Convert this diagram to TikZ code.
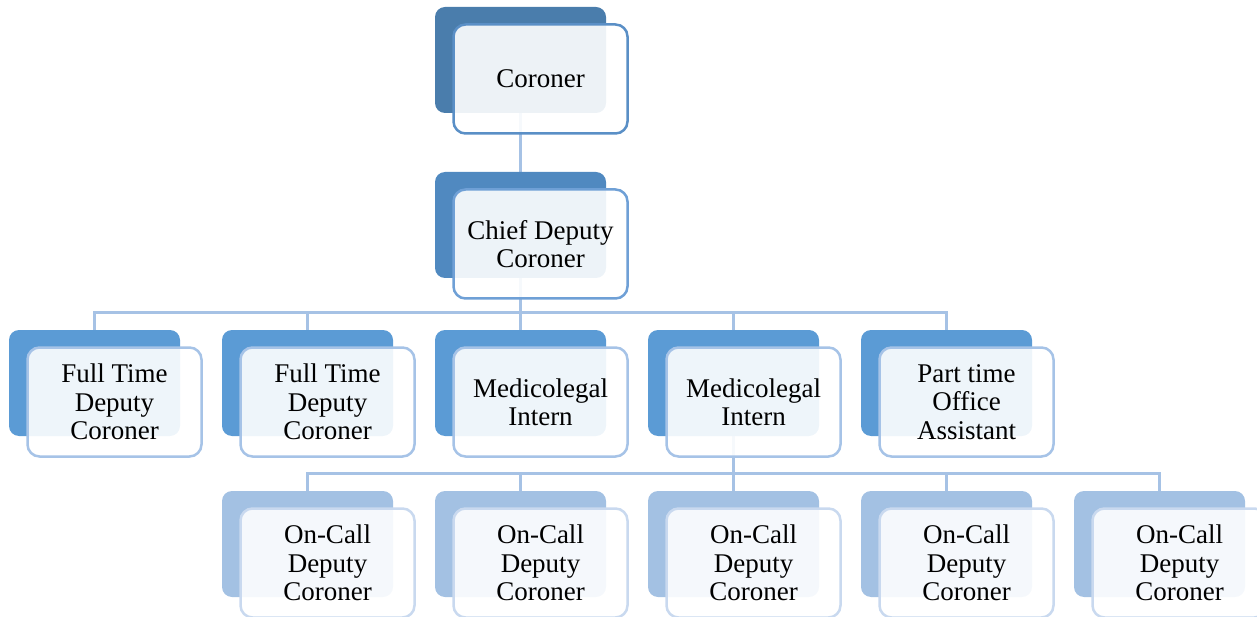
\documentclass[tikz,border=0pt]{standalone}
\usepackage{fontspec}
\setmainfont{Liberation Serif}
\usetikzlibrary{positioning, backgrounds}

\definecolor{backA}{RGB}{74, 125, 172}
\definecolor{backB}{RGB}{80, 137, 192}
\definecolor{backC}{RGB}{91, 155, 213}
\definecolor{backD}{RGB}{163, 193, 227}
\definecolor{edgeA}{RGB}{90, 143, 198}
\definecolor{edgeB}{RGB}{111, 160, 214}
\definecolor{edgeC}{RGB}{166, 195, 231}
\definecolor{edgeD}{RGB}{201, 217, 239}
\definecolor{linkblue}{RGB}{166, 194, 229}

\begin{document}
\begin{tikzpicture}[x=1pt, y=-1pt,
  backbox/.style={rounded corners=10pt, minimum width=171pt, minimum height=106pt, inner sep=0pt},
  frontbox/.style={rounded corners=12pt, line width=2.5pt, fill=white, fill opacity=0.9, text opacity=1,
    minimum width=174pt, minimum height=109pt, inner sep=0pt, align=center,
    font=\fontsize{27}{28.4}\selectfont},
  link/.style={line width=3pt, linkblue}]
  \useasboundingbox (0,0) rectangle (1257,617);

  % Coroner and chief deputy
  \node (coroner-bk) [backbox, fill=backA] at (520.5, 60) {};
  \node (coroner) [frontbox, draw=edgeA] at ([shift={(20,19)}]coroner-bk.center) {Coroner};

  \node (chief-bk) [backbox, fill=backB] at (520.5, 225) {};
  \node (chief) [frontbox, draw=edgeB] at ([shift={(20,19)}]chief-bk.center) {Chief Deputy\\Coroner};

  % Staff row
  \node (fulltime1-bk) [backbox, fill=backC] at (94.5, 383) {};
  \node (fulltime1) [frontbox, draw=edgeC] at ([shift={(20,19)}]fulltime1-bk.center) {Full Time\\Deputy\\Coroner};

  \node (fulltime2-bk) [backbox, fill=backC] at (307.5, 383) {};
  \node (fulltime2) [frontbox, draw=edgeC] at ([shift={(20,19)}]fulltime2-bk.center) {Full Time\\Deputy\\Coroner};

  \node (intern1-bk) [backbox, fill=backC] at (520.5, 383) {};
  \node (intern1) [frontbox, draw=edgeC] at ([shift={(20,19)}]intern1-bk.center) {Medicolegal\\Intern};

  \node (intern2-bk) [backbox, fill=backC] at (733.5, 383) {};
  \node (intern2) [frontbox, draw=edgeC] at ([shift={(20,19)}]intern2-bk.center) {Medicolegal\\Intern};

  \node (assistant-bk) [backbox, fill=backC] at (946.5, 383) {};
  \node (assistant) [frontbox, draw=edgeC] at ([shift={(20,19)}]assistant-bk.center) {Part time\\Office\\Assistant};

  % On-call row
  \node (oncall1-bk) [backbox, fill=backD] at (307.5, 544) {};
  \node (oncall1) [frontbox, draw=edgeD] at ([shift={(20,19)}]oncall1-bk.center) {On-Call\\Deputy\\Coroner};

  \node (oncall2-bk) [backbox, fill=backD] at (520.5, 544) {};
  \node (oncall2) [frontbox, draw=edgeD] at ([shift={(20,19)}]oncall2-bk.center) {On-Call\\Deputy\\Coroner};

  \node (oncall3-bk) [backbox, fill=backD] at (733.5, 544) {};
  \node (oncall3) [frontbox, draw=edgeD] at ([shift={(20,19)}]oncall3-bk.center) {On-Call\\Deputy\\Coroner};

  \node (oncall4-bk) [backbox, fill=backD] at (946.5, 544) {};
  \node (oncall4) [frontbox, draw=edgeD] at ([shift={(20,19)}]oncall4-bk.center) {On-Call\\Deputy\\Coroner};

  \node (oncall5-bk) [backbox, fill=backD] at (1159.5, 544) {};
  \node (oncall5) [frontbox, draw=edgeD] at ([shift={(20,19)}]oncall5-bk.center) {On-Call\\Deputy\\Coroner};

  % Connectors behind the boxes
  \begin{scope}[on background layer]
    \draw[link] (coroner-bk.south) -- (chief-bk.north);

    \draw[link] (chief-bk.south) -- ++(0,34) -| (fulltime1-bk.north);
    \draw[link] (chief-bk.south) -- ++(0,34) -| (fulltime2-bk.north);
    \draw[link] (chief-bk.south) -- (intern1-bk.north);
    \draw[link] (chief-bk.south) -- ++(0,34) -| (intern2-bk.north);
    \draw[link] (chief-bk.south) -- ++(0,34) -| (assistant-bk.north);

    \draw[link] (intern2-bk.south) -- ++(0,37) -| (oncall1-bk.north);
    \draw[link] (intern2-bk.south) -- ++(0,37) -| (oncall2-bk.north);
    \draw[link] (intern2-bk.south) -- (oncall3-bk.north);
    \draw[link] (intern2-bk.south) -- ++(0,37) -| (oncall4-bk.north);
    \draw[link] (intern2-bk.south) -- ++(0,37) -| (oncall5-bk.north);
  \end{scope}

\end{tikzpicture}
\end{document}
